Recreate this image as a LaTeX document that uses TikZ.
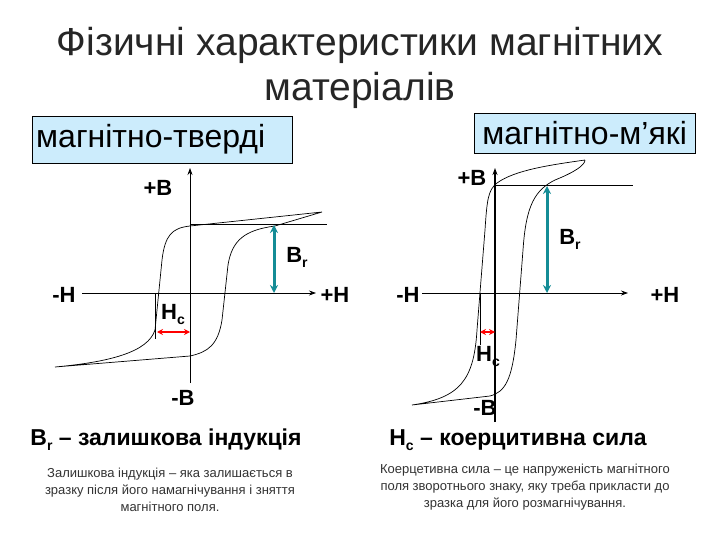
\documentclass[tikz,border=0pt]{standalone}
\usepackage{fontspec}
\setmainfont{Liberation Sans}
\usetikzlibrary{arrows.meta}
\definecolor{boxfill}{RGB}{204,236,252}
\definecolor{teal}{RGB}{20,140,150}
\newcommand{\sbs}[1]{\raisebox{-5pt}{\fontsize{14}{14}\selectfont #1}}
\tikzset{
  lbl/.style={font=\fontsize{22}{24}\selectfont\bfseries, inner sep=0pt},
  boxlbl/.style={draw=black, fill=boxfill, font=\fontsize{32}{34}\selectfont, inner sep=2pt, anchor=north west},
  axis/.style={-{Stealth[length=7pt,width=5pt]}, line width=0.8pt},
  curve/.style={line width=0.7pt},
  brarrow/.style={{Stealth[length=8pt,width=8pt]}-{Stealth[length=8pt,width=8pt]}, teal, line width=3pt},
  hcarrow/.style={{Stealth[length=6pt,width=6pt]}-{Stealth[length=6pt,width=6pt]}, red, line width=2.5pt},
  small/.style={font=\fontsize{13}{17}\selectfont, align=center, text=black!80, inner sep=0pt}
}
\begin{document}
\begin{tikzpicture}[x=1pt,y=-1pt]
\useasboundingbox (0,0) rectangle (720,540);
\fill[white] (0,0) rectangle (720,540);
\node[font=\fontsize{39}{45}\selectfont, align=center, text=black!85] (title) at (360,68) {Фізичні характеристики магнітних\\матеріалів};
\node[boxlbl, minimum width=260pt, minimum height=47pt, text width=252pt, align=left] (hard) at (32,116) {магнітно-тверді};
\node[boxlbl, minimum width=221pt, minimum height=40pt, align=center, anchor=north west] (soft) at (474,113) {магнітно-м’які};
% left graph
\coordinate (lb0) at (190,383); \coordinate (lb1) at (190,168);
\coordinate (lh0) at (82,293); \coordinate (lh1) at (316,293);
\draw[axis] (lb0) -- (lb1);
\draw[axis] (lh0) -- (lh1);
\node[lbl] (lpb) at (158,188) {+B};
\node[lbl] (lmb) at (183,398) {-B};
\node[lbl] (lmh) at (64,295) {-H};
\node[lbl] (lph) at (335,295) {+H};
\draw[curve] (190,224) -- (327,224);
\draw[curve] (322,212) -- (190,226) .. controls (172,228) and (165,235) .. (162,260)
  -- (155,330) .. controls (148,352) and (110,362) .. (55,367)
  -- (190,356) .. controls (208,352) and (218,345) .. (222,320) -- (228,265)
  .. controls (232,240) and (245,230) .. (275,226) -- (322,212);
\draw[curve] (155,293) -- (155,339);
\draw[hcarrow] (157,332) -- (190,332);
\node[lbl] (lhc) at (173,314) {H\sbs{c}};
\draw[brarrow] (274,225) -- (274,293);
\node[lbl] (lbr) at (297,257) {B\sbs{r}};
% right graph
\coordinate (rb0) at (495,422); \coordinate (rb1) at (495,168);
\coordinate (rh0) at (422,293); \coordinate (rh1) at (628,293);
\draw[axis, line width=2pt] (rb0) -- (rb1);
\draw[axis] (rh0) -- (rh1);
\node[lbl] (rpb) at (472,178) {+B};
\node[lbl] (rmb) at (485,408) {-B};
\node[lbl] (rmh) at (408,295) {-H};
\node[lbl] (rph) at (665,295) {+H};
\draw[curve] (495,185) -- (633,185);
\draw[curve] (585,160) .. controls (550,165) and (515,170) .. (497,183)
  .. controls (488,190) and (487,200) .. (485,230) -- (477,330)
  .. controls (474,380) and (460,398) .. (412,405)
  -- (490,396) .. controls (505,392) and (512,380) .. (516,340) -- (523,250)
  .. controls (526,205) and (535,190) .. (555,180) .. controls (575,172) and (585,165) .. (585,160);
\draw[curve] (480,293) -- (480,345);
\draw[hcarrow] (480,332) -- (495,332);
\node[lbl] (rhc) at (488,356) {H\sbs{c}};
\draw[brarrow] (547,186) -- (547,293);
\node[lbl] (rbr) at (570,239) {B\sbs{r}};
% bottom texts
\node[lbl, font=\fontsize{23}{26}\selectfont\bfseries] (brdef) at (166,440) {B\sbs{r} – залишкова індукція};
\node[lbl, font=\fontsize{23}{26}\selectfont\bfseries] (hcdef) at (518,440) {H\sbs{c} – коерцитивна сила};
\node[small] (brtxt) at (170,490) {Залишкова індукція – яка залишається в\\зразку після його намагнічування і зняття\\магнітного поля.};
\node[small] (hctxt) at (525,487) {Коерцетивна сила – це напруженість магнітного\\поля зворотнього знаку, яку треба прикласти до\\зразка для його розмагнічування.};
\end{tikzpicture}
\end{document}
